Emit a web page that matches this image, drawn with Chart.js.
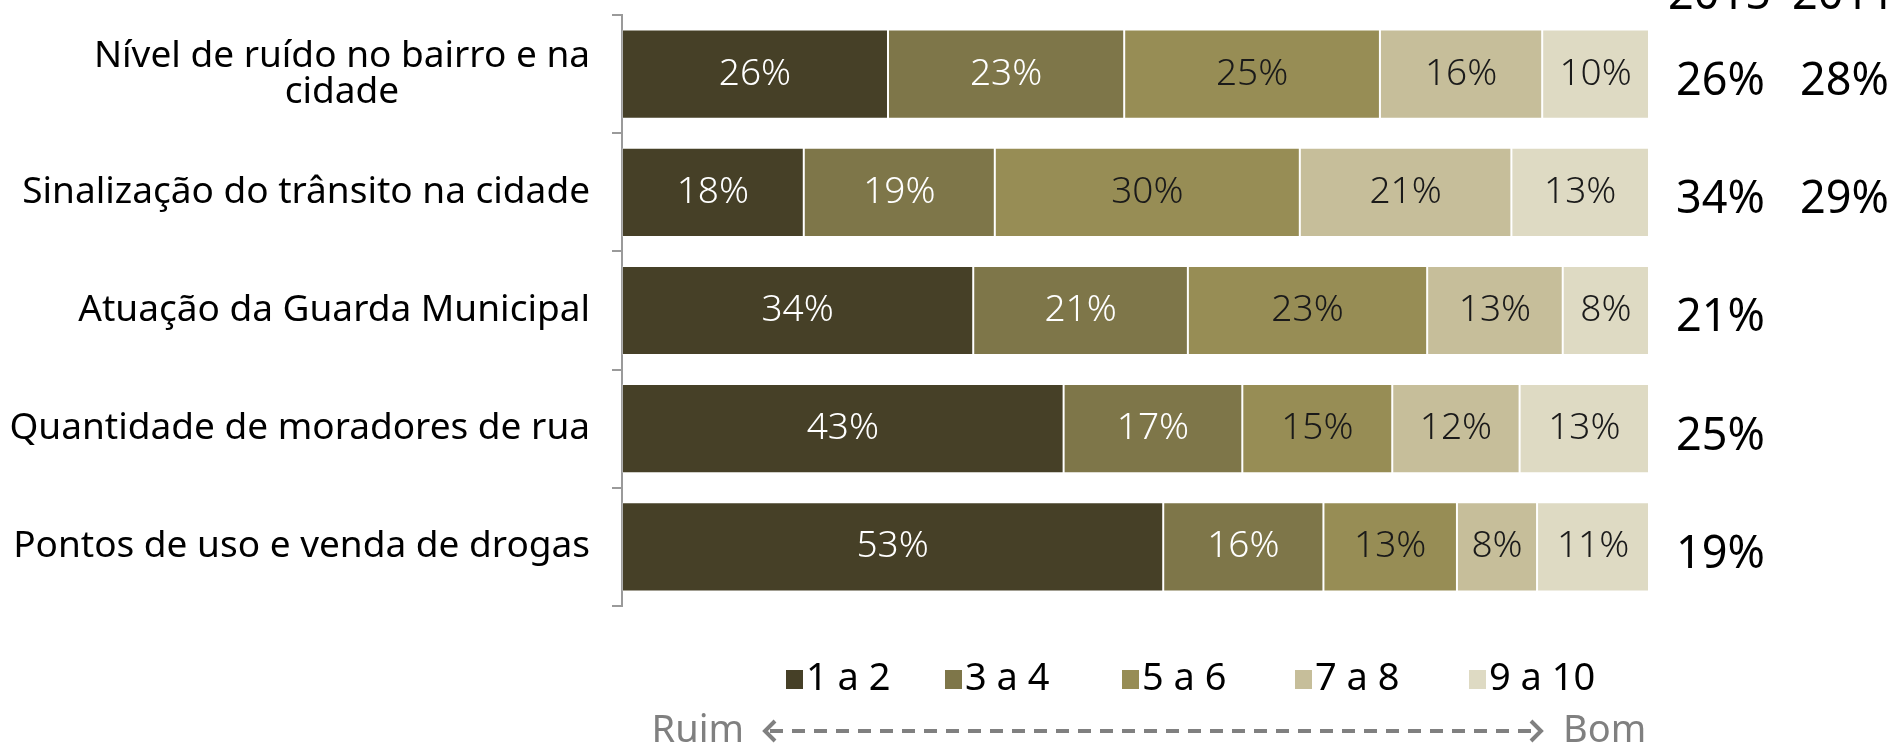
<!DOCTYPE html>
<html>
<head>
<meta charset="utf-8">
<script src="https://cdn.jsdelivr.net/npm/chart.js@4"></script>
<style>
  body { margin: 0; background: #fff; }
  canvas { display: block; }
</style>
</head>
<body>
<canvas id="chart" width="1901" height="749"></canvas>
<script>
// data (shares per row add up to 100)
const categories = [
    ['Nível de ruído no bairro e na', 'cidade'],
    'Sinalização do trânsito na cidade',
    'Atuação da Guarda Municipal',
    'Quantidade de moradores de rua',
    'Pontos de uso e venda de drogas'
];
const seriesNames = ['1 a 2', '3 a 4', '5 a 6', '7 a 8', '9 a 10'];
const s1a2 = [25.9, 17.7, 34.2, 43.0, 52.7];
const s3a4 = [23.0, 18.6, 20.9, 17.4, 15.6];
const s5a6 = [24.9, 29.7, 23.3, 14.6, 13.0];
const s7a8 = [15.8, 20.6, 13.2, 12.4, 7.8];
const s9a10 = [10.4, 13.4, 8.4, 12.6, 10.9];
const col2015 = ['26%', '34%', '21%', '25%', '19%'];
const col2011 = ['28%', '29%', '', '', ''];
const colors = ['#464027', '#7e7649', '#978d55', '#c6be9a', '#dedac3'];
const labelColors = ['#ffffff', '#ffffff', '#1a1a1a', '#1a1a1a', '#1a1a1a'];

const FONT = '"Noto Sans", sans-serif';

const barLabels = {
    id: 'barLabels',
    afterDatasetsDraw(chart) {
        const ctx = chart.ctx;
        ctx.save();
        ctx.font = '300 37px ' + FONT;
        ctx.textAlign = 'center';
        ctx.textBaseline = 'middle';
        chart.data.datasets.forEach((ds, i) => {
            chart.getDatasetMeta(i).data.forEach((bar, j) => {
                ctx.fillStyle = labelColors[i];
                ctx.fillText(Math.round(ds.data[j]) + '%', (bar.x + bar.base) / 2, bar.y);
            });
        });

        // category labels: block right-aligned to the axis, lines centred inside the block
        const yScale = chart.scales.y;
        const right = yScale.right - 10 - 22;
        ctx.fillStyle = '#000';
        ctx.font = '37px ' + FONT;
        categories.forEach((cat, j) => {
            const lines = Array.isArray(cat) ? cat : [cat];
            const w = Math.max(...lines.map(l => ctx.measureText(l).width));
            const cy = yScale.getPixelForTick(j);
            const lh = 36;
            lines.forEach((l, k) => {
                ctx.fillText(l, right - w / 2, cy + (k - (lines.length - 1) / 2) * lh);
            });
        });

        // side columns 2015 / 2011
        const meta = chart.getDatasetMeta(0).data;
        ctx.font = '45px ' + FONT;
        ctx.textAlign = 'left';
        ctx.textBaseline = 'alphabetic';
        ctx.fillText('2015', 1668, 9);
        ctx.fillText('2011', 1792, 9);
        ctx.textBaseline = 'middle';
        meta.forEach((bar, j) => {
            ctx.fillText(col2015[j], 1676, bar.y + 8);
            if (col2011[j]) ctx.fillText(col2011[j], 1800, bar.y + 8);
        });

        // legend
        const legendX = [786, 945, 1122, 1295, 1469];
        const ly = 679;
        ctx.font = '38px ' + FONT;
        seriesNames.forEach((name, i) => {
            ctx.fillStyle = colors[i];
            ctx.fillRect(legendX[i], ly - 9, 17, 19);
            ctx.fillStyle = '#000';
            ctx.fillText(name, legendX[i] + 20, ly);
        });

        // Ruim <- - -> Bom
        const ay = 731;
        ctx.strokeStyle = '#808080';
        ctx.fillStyle = '#808080';
        ctx.lineWidth = 4;
        ctx.font = '38px ' + FONT;
        ctx.textAlign = 'right';
        ctx.fillText('Ruim', 744, ay);
        ctx.textAlign = 'left';
        ctx.fillText('Bom', 1563, ay);
        ctx.setLineDash([13, 9]);
        ctx.beginPath();
        ctx.moveTo(770, ay);
        ctx.lineTo(1536, ay);
        ctx.stroke();
        ctx.setLineDash([]);
        ctx.beginPath();
        ctx.moveTo(775, ay - 10);
        ctx.lineTo(765, ay);
        ctx.lineTo(775, ay + 10);
        ctx.moveTo(1531, ay - 10);
        ctx.lineTo(1541, ay);
        ctx.lineTo(1531, ay + 10);
        ctx.stroke();
        ctx.restore();
    }
};

const seriesData = [s1a2, s3a4, s5a6, s7a8, s9a10];

new Chart(document.getElementById('chart'), {
    type: 'bar',
    data: {
        labels: categories,
        datasets: seriesNames.map((name, i) => ({
            label: name,
            data: seriesData[i],
            backgroundColor: colors[i],
            borderColor: 'rgba(255,255,255,0.2)',
            borderWidth: 1,
            borderSkipped: false,
            barPercentage: 0.755,
            categoryPercentage: 1
        }))
    },
    options: {
        indexAxis: 'y',
        responsive: false,
        animation: false,
        layout: { padding: { top: 15, bottom: 143, right: 252, left: 0 } },
        plugins: {
            legend: { display: false },
            tooltip: { enabled: false }
        },
        scales: {
            x: { stacked: true, min: 0, max: 100, display: false },
            y: {
                stacked: true,
                afterFit: s => {
                    s.width = 622;
                    s.paddingTop = 0;
                    s.paddingBottom = 0;
                },
                border: { color: '#9a9a9a', width: 2 },
                grid: { drawOnChartArea: false, tickLength: 10, color: '#9a9a9a', lineWidth: 2 },
                ticks: {
                    color: 'rgba(0,0,0,0)',  // drawn by the plugin (centred multi-line block)
                    padding: 22,
                    font: { family: FONT, size: 37, lineHeight: 0.95 }
                }
            }
        }
    },
    plugins: [barLabels]
});
</script>
</body>
</html>
